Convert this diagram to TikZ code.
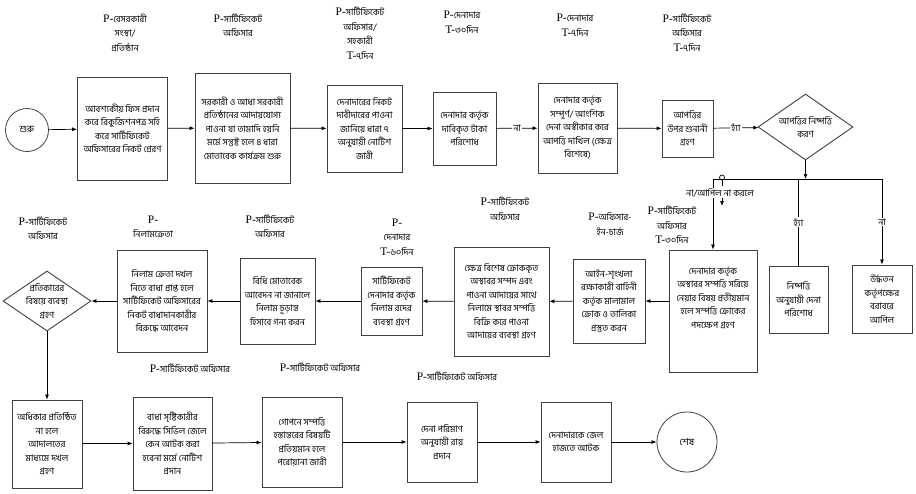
\documentclass[tikz,border=0pt]{standalone}
\usepackage{fontspec}
\setmainfont[Script=Bengali]{Hind Siliguri}
\newfontfamily\latfont{Liberation Serif}
\usetikzlibrary{shapes.geometric}
\usetikzlibrary{arrows.meta}
\newcommand{\lat}[1]{{\latfont\fontsize{11.5}{13}\selectfont #1}}
\tikzset{
	box/.style={draw=black!75, line width=0.9pt, align=center, inner sep=1pt, font=\fontsize{9}{13.5}\selectfont},
	dia/.style={box, shape=diamond, inner sep=0pt},
	term/.style={draw=black!75, line width=0.8pt, circle, inner sep=0pt, font=\fontsize{9.5}{12}\selectfont},
	lbl/.style={align=center, font=\fontsize{9}{14.5}\selectfont},
	arr/.style={line width=0.7pt, -{Latex[length=5pt,width=4pt]}},
	tag/.style={fill=white, inner sep=1pt, font=\fontsize{9}{11}\selectfont}
}
\newcommand{\bx}[6] % name, x, y, width in pt, height in pt, text
{
	\node[box, minimum width=#4pt, minimum height=#5pt] (#1) at (#2,#3) {#6};
}
\newcommand{\who}[4] % name, x, y, text
{
	\node[lbl] (#1) at (#2,#3) {#4};
}

\begin{document}
\begin{tikzpicture}[x=1pt,y=-1pt]
	\useasboundingbox (0,0) rectangle (916,493);
	% row 1: left to right
	\node[term, minimum size=43pt] (start) at (27,130) {শুরু};
	\bx{fee}{122.5}{128.5}{90}{103}{আবশ্যকীয় ফিস প্রদান\\করে রিকুজিশনপত্র সহি\\করে সার্টিফিকেট\\অফিসারের নিকট প্রেরণ}
	\bx{begin}{242.5}{128}{95}{110}{সরকারী ও আধা সরকারী\\প্রতিষ্ঠানের আদায়যোগ্য\\পাওনা যা তামাদি হয়নি\\মর্মে সন্তুষ্ট হলে ৪ ধারা\\মোতাবেক কার্যক্রম শুরু}
	\bx{notice}{364.5}{128.5}{75}{87}{দেনাদারের নিকট\\দাবীদারের পাওনা\\জানিয়ে ধারা ৭\\অনুযায়ী নোটিশ\\জারী}
	\bx{paid}{464.5}{128.5}{63}{73}{দেনাদার কর্তৃক\\দাবিকৃত টাকা\\পরিশোধ}
	\bx{deny}{577.5}{128}{79}{90}{দেনাদার কর্তৃক\\সম্পূর্ণ/ আংশিক\\দেনা অস্বীকার করে\\আপত্তি দাখিল (ক্ষেত্র\\বিশেষে)}
	\bx{hear}{687.5}{128.5}{51}{57}{আপত্তির\\উপর শুনানী\\গ্রহণ}
	\node[dia, aspect=1.44, minimum width=95pt, minimum height=66pt, inner sep=-3pt] (settle) at (805.5,127) {আপত্তির নিষ্পত্তি\\করণ};

	\who{p1}{125}{32.5}{\lat{P-}বেসরকারী\\সংস্থা/\\প্রতিষ্ঠান}
	\who{p2}{238}{25.5}{\lat{P-}সার্টিফিকেট\\অফিসার}
	\who{p3}{360}{33.5}{\lat{P-}সার্টিফিকেট\\অফিসার/\\সহকারী\\\lat{T-}৭দিন}
	\who{p4}{462}{22}{\lat{P-}দেনাদার\\\lat{T-}৩০দিন}
	\who{p5}{575}{25.5}{\lat{P-}দেনাদার\\\lat{T-}৭দিন}
	\who{p6}{687}{32.5}{\lat{P-}সার্টিফিকেট\\অফিসার\\\lat{T-}৭দিন}

	\draw[arr] (start) -- (fee);
	\draw[arr] (fee) -- (begin);
	\draw[arr] (begin) -- (notice);
	\draw[arr] (notice) -- (paid);
	\draw[arr] (paid) -- node[tag] (no1) {না} (deny);
	\draw[arr] (deny) -- (hear);
	\draw[arr] (hear) -- node[tag] (yes1) {হ্যাঁ} (settle);

	% branch under the diamond
	\coordinate (hl) at (713,179);
	\coordinate (hr) at (882,179);
	\draw[line width=0.7pt] (hl) -- (hr);
	\draw[arr] (settle.south) -- (settle.south |- hl);

	% row 2: right to left
	\bx{appeal}{882}{299}{60}{68}{উর্দ্ধতন\\কর্তৃপক্ষের\\বরাবরে\\আপিল}
	\bx{pay}{798.5}{299.5}{59}{67}{নিষ্পত্তি\\অনুযায়ী দেনা\\পরিশোধ}
	\bx{attach}{713}{311}{88}{122}{দেনাদার কর্তৃক\\অস্থাবর সম্পত্তি সরিয়ে\\নেয়ার বিষয় প্রতীয়মান\\হলে সম্পত্তি ক্রোকের\\পদক্ষেপ গ্রহণ\\~\\~}
	\bx{police}{609}{301}{72}{84}{আইন-শৃংখলা\\রক্ষাকারী বাহিনী\\কর্তৃক মালামাল\\ক্রোক ও তালিকা\\প্রস্তুত করন}
	\bx{sell}{501.5}{301.5}{95}{109}{ক্ষেত্র বিশেষ ক্রোককৃত\\অস্থাবর সম্পদ এবং\\পাওনা আদায়ের সাথে\\নিলামে স্থাবর সম্পত্তি\\বিক্রি করে পাওনা\\আদায়ের ব্যবস্থা গ্রহণ}
	\bx{cancel}{391.5}{301}{61}{68}{সার্টিফিকেট\\দেনাদার কর্তৃক\\নিলাম রদের\\ব্যবস্থা গ্রহণ}
	\bx{final}{277.5}{301}{75}{86}{বিধি মোতাবেক\\আবেদন না জানালে\\নিলাম চূড়ান্ত\\হিসাবে গন্য করন}
	\bx{buyer}{162}{301}{90}{102}{নিলাম ক্রেতা দখল\\নিতে বাধা প্রাপ্ত হলে\\সার্টিফিকেট অফিসারের\\নিকট বাধাদানকারীর\\বিরুদ্ধে আবেদন}
	\node[dia, aspect=1.47, minimum width=88pt, minimum height=60pt, inner sep=-6pt] (remedy) at (47,301) {প্রতিকারের\\বিষয়ে ব্যবস্থা\\গ্রহণ};

	\who{p7}{672}{225}{\lat{P-}সার্টিফিকেট\\অফিসার\\\lat{T-}৩০দিন}
	\who{p8}{610}{224}{\lat{P-}অফিসার-\\ইন-চার্জ}
	\who{p9}{505}{209}{\lat{P-}সার্টিফিকেট\\অফিসার}
	\who{p10}{397}{237}{\lat{P-}\\দেনাদার\\\lat{T-}৬০দিন}
	\who{p11}{270}{226.5}{\lat{P-}সার্টিফিকেট\\অফিসার}
	\who{p12}{153}{227}{\lat{P-}\\নিলামক্রেতা}
	\who{p13}{43}{228.5}{\lat{P-}সার্টিফিকেট\\অফিসার}

	\draw[line width=0.7pt] (pay |- hl) -- node[tag] (yes2) {হ্যাঁ} (pay.north);
	\draw[arr] (appeal |- hl) -- node[tag] (no2) {না} (appeal.north);
	\draw[line width=0.7pt] (hl) -- ++(0,6);
	\draw[arr] (hl) -- (attach.north);
	\node[tag] (noappeal) at (720,193) {না/আপিল না করলে};
	\draw[line width=0.7pt] (722,177.5) circle (2.5pt);
	\draw[line width=0.7pt] (722,180) -- (722,186);
	\draw[arr] (722,198) -- (722,206);

	\draw[arr] (police.east -| attach.west) -- (police.east);
	\draw[arr] (police) -- (sell);
	\draw[arr] (sell) -- (cancel);
	\draw[arr] (cancel) -- (final);
	\draw[arr] (final) -- (buyer);
	\draw[arr] (buyer) -- (remedy);

	% row 3: left to right
	\bx{possess}{47}{444}{70}{88}{অধিকার প্রতিষ্ঠিত\\না হলে\\আদালতের\\মাধ্যমে দখল\\গ্রহণ}
	\bx{civil}{172.5}{443.5}{79}{93}{বাধা সৃষ্টিকারীর\\বিরুদ্ধে সিভিল জেলে\\কেন আটক করা\\হবেনা মর্মে নোটিশ\\প্রদান}
	\bx{warrant}{302}{442}{80}{90}{গোপনে সম্পত্তি\\হস্তান্তরের বিষয়টি\\প্রতিয়মান হলে\\পরোয়ানা জারী}
	\bx{verdict}{442}{442}{70}{80}{দেনা পরিমাণ\\অনুযায়ী রায়\\প্রদান}
	\bx{jail}{576}{442}{70}{80}{দেনাদারকে জেল\\হাজতে আটক}
	\node[term, minimum size=60pt] (stop) at (687,442) {শেষ};

	\who{p14}{190}{368}{\lat{P-}সার্টিফিকেট অফিসার}
	\who{p15}{320}{367}{\lat{P-}সার্টিফিকেট অফিসার}
	\who{p16}{457}{376}{\lat{P-}সার্টিফিকেট অফিসার}

	\draw[arr] (remedy) -- (possess);
	\draw[arr] (possess.east |- civil) -- (civil);
	\draw[arr] (civil) -- (warrant);
	\draw[arr] (warrant) -- (verdict);
	\draw[arr] (verdict) -- (jail);
	\draw[arr] (jail) -- (stop);
\end{tikzpicture}
\end{document}
